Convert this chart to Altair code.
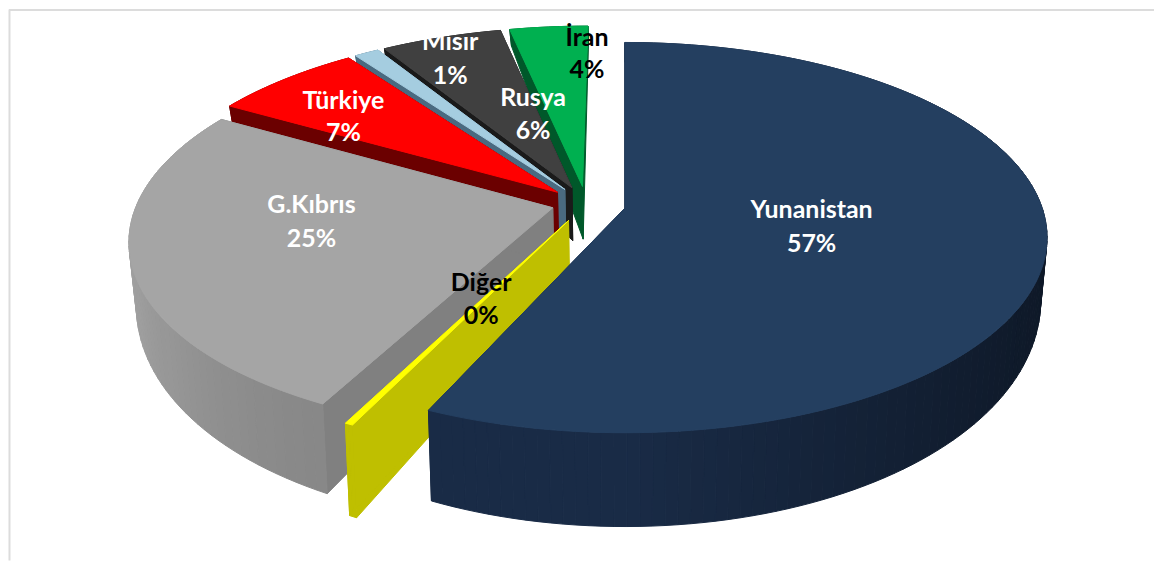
import math
import altair as alt
import pandas as pd

# Values, clockwise from the top of the pie
names = ["Yunanistan", "Diğer", "G.Kıbrıs", "Türkiye", "Mısır", "Rusya", "İran"]
shares = [56.65, 0.85, 25.8, 6.7, 1.1, 5.4, 3.5]
shown = ["57%", "0%", "25%", "7%", "1%", "6%", "4%"]

top_colors = ["#243F60", "#FFFF00", "#A5A5A5", "#FF0000", "#A5CDE0", "#404040", "#00B050"]
wall_colors = ["#17273F", "#BFBF00", "#808080", "#6B0000", "#4A6A80", "#1A1A1A", "#00582A"]
text_colors = ["white", "black", "white", "white", "white", "white", "black"]

# label centres (name line, percent line) in page pixels
label_pos = {
    "Yunanistan": (812, 209, 243), "Diğer": (481, 282, 315), "G.Kıbrıs": (311, 204, 238),
    "Türkiye": (343, 100, 132), "Mısır": (450, 41, 75), "Rusya": (533, 97, 130), "İran": (587, 37, 69),
}
# small per-slice nudges of the exploded slice, in pie radii
nudge_u = {"G.Kıbrıs": 0.011}
nudge_v = {"G.Kıbrıs": 0.008}
# the thin slice is drawn narrower than its span
lead_deg = {"Diğer": 1.1}
trail_deg = {"Diğer": 1.0}

# perspective pie geometry
X0, Y0, B, A, PERSP = 625, 207, 418, 191, 0.151
CU, CV, EXPLODE = -0.093, 0.021, 0.095


def project(u, v, low=False):
    f = 1 / (1 + PERSP * v)
    x = X0 + B * u * f
    y = Y0 - A * v * f
    if low:
        y += max(10, 57 - 37 * v)
        x = X0 + (x - X0) * 0.985
    return x, y


def shade(color, k):
    r, g, b = int(color[1:3], 16), int(color[3:5], 16), int(color[5:7], 16)
    return "#%02x%02x%02x" % (min(255, int(r * k)), min(255, int(g * k)), min(255, int(b * k)))


rows = []
pid = 0


def add_poly(pts, col):
    global pid
    pid += 1
    for i, (x, y) in enumerate(pts):
        rows.append({"poly": pid, "i": i, "x": x, "y": y, "col": col})


spans = []
start = 0.0
for share in shares:
    spans.append((start, start + share * 3.6))
    start += share * 3.6

# painter's order: back slices first, the large front slice last
for k in [6, 5, 4, 3, 2, 1, 0]:
    name = names[k]
    a0, a1 = spans[k]
    a0 += lead_deg.get(name, 0)
    a1 -= trail_deg.get(name, 0)
    mid = math.radians((a0 + a1) / 2)
    if name == "Yunanistan":
        u0, v0 = 0.0, 0.0
    else:
        u0 = CU + EXPLODE * math.sin(mid) + nudge_u.get(name, 0)
        v0 = CV + EXPLODE * math.cos(mid) + nudge_v.get(name, 0)
    n = max(2, int((a1 - a0) / 1.5))
    arc = []
    for j in range(n + 1):
        t = math.radians(a0 + (a1 - a0) * j / n)
        arc.append((u0 + math.sin(t), v0 + math.cos(t), t))
    tip_t = project(u0, v0)
    tip_b = project(u0, v0, True)
    # radial walls
    for end in (arc[0], arc[-1]):
        add_poly([tip_t, project(end[0], end[1]), project(end[0], end[1], True), tip_b], wall_colors[k])
    # outer wall, back segments first
    segs = sorted(range(n), key=lambda j: -(arc[j][1] + arc[j + 1][1]))
    for j in segs:
        p, q = arc[j], arc[j + 1]
        tm = (p[2] + q[2]) / 2
        if name == "Yunanistan":
            light = 1.12 - 0.5 * max(0, math.sin(tm))
        elif name == "G.Kıbrıs":
            light = 1.04 + 0.24 * max(0, -math.sin(tm)) ** 3
        else:
            light = 1.0
        add_poly([project(p[0], p[1]), project(q[0], q[1]),
                  project(q[0], q[1], True), project(p[0], p[1], True)], shade(wall_colors[k], light))
    # top face
    add_poly([tip_t] + [project(p[0], p[1]) for p in arc], top_colors[k])

geo = pd.DataFrame(rows)

labels = pd.DataFrame(
    [{"t": nm, "x": label_pos[nm][0], "y": label_pos[nm][1], "c": c} for nm, c in zip(names, text_colors)]
    + [{"t": s, "x": label_pos[nm][0], "y": label_pos[nm][2], "c": c} for nm, s, c in zip(names, shown, text_colors)]
)

xs = alt.Scale(domain=[8, 1155], nice=False, zero=False)
ys = alt.Scale(domain=[8, 560], nice=False, zero=False, reverse=True)

faces = alt.Chart(geo).mark_line(interpolate="linear-closed", strokeWidth=1).encode(
    x=alt.X("x:Q", scale=xs, axis=None),
    y=alt.Y("y:Q", scale=ys, axis=None),
    detail="poly:N",
    order="i:Q",
    fill=alt.Fill("col:N", scale=None),
    stroke=alt.Stroke("col:N", scale=None),
)

text = alt.Chart(labels).mark_text(font="Lato", fontWeight="bold", fontSize=25, baseline="middle", align="center").encode(
    x=alt.X("x:Q", scale=xs, axis=None),
    y=alt.Y("y:Q", scale=ys, axis=None),
    text="t:N",
    color=alt.Color("c:N", scale=None),
)

frame_v = alt.Chart(pd.DataFrame({"x": [8.5], "y": [8], "y2": [560]})).mark_rule(color="#DCDCDC", strokeWidth=2).encode(
    x=alt.X("x:Q", scale=xs, axis=None), y=alt.Y("y:Q", scale=ys, axis=None), y2="y2:Q")
frame_h = alt.Chart(pd.DataFrame({"x": [8], "x2": [1155], "y": [8.5]})).mark_rule(color="#DCDCDC", strokeWidth=2).encode(
    x=alt.X("x:Q", scale=xs, axis=None), x2="x2:Q", y=alt.Y("y:Q", scale=ys, axis=None))

chart = alt.layer(frame_v, frame_h, faces, text).properties(width=1147, height=552, padding=0).configure_view(stroke=None).resolve_scale(color="independent")
chart.save("out.html", embed_options={"renderer": "svg", "actions": False})
